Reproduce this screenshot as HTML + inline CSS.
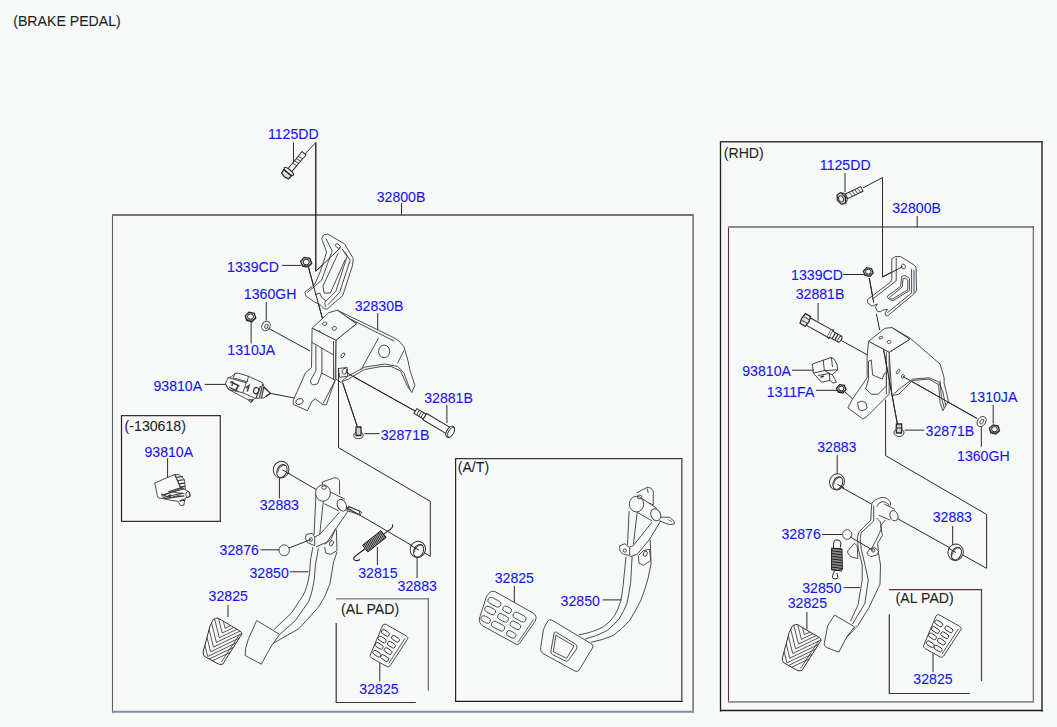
<!DOCTYPE html>
<html><head><meta charset="utf-8"><style>
html,body{margin:0;padding:0;background:#f7f9f9;}
svg{display:block;}
svg .z *{vector-effect:non-scaling-stroke;}
text{font-family:"Liberation Sans",sans-serif;font-size:14.8px;stroke-width:0.08px;}
</style></head><body>
<svg width="1057" height="727" viewBox="0 0 1057 727">
<rect x="0" y="0" width="1057" height="727" fill="#f7f9f9"/>
<line x1="112.5" y1="214" x2="112.5" y2="712.7" stroke="#5e5e5e" stroke-width="1.1"/>
<line x1="112" y1="215" x2="693.5" y2="215" stroke="#747478" stroke-width="2"/>
<line x1="693.1" y1="214" x2="693.1" y2="712.7" stroke="#76767c" stroke-width="1.6"/>
<line x1="112" y1="711.8" x2="694" y2="711.8" stroke="#8a8a98" stroke-width="2"/>
<line x1="121.5" y1="415" x2="121.5" y2="521.8" stroke="#1e1e1e" stroke-width="1.2"/>
<line x1="121" y1="415.6" x2="220.8" y2="415.6" stroke="#5a2026" stroke-width="1.2"/>
<line x1="220.3" y1="415" x2="220.3" y2="521.8" stroke="#333" stroke-width="1.2"/>
<line x1="121" y1="521.3" x2="220.8" y2="521.3" stroke="#333" stroke-width="1.2"/>
<line x1="455.6" y1="458" x2="455.6" y2="702" stroke="#262626" stroke-width="1.2"/>
<line x1="455" y1="458.6" x2="682.5" y2="458.6" stroke="#333" stroke-width="1.2"/>
<line x1="681.8" y1="458" x2="681.8" y2="702" stroke="#555" stroke-width="1.4"/>
<line x1="455" y1="701.4" x2="682.5" y2="701.4" stroke="#1a1a1a" stroke-width="1.2"/>
<line x1="720.5" y1="141" x2="720.5" y2="711.5" stroke="#1e1e1e" stroke-width="1.3"/>
<line x1="720" y1="141.8" x2="1042.8" y2="141.8" stroke="#3a3a3a" stroke-width="1.4"/>
<line x1="1042" y1="141" x2="1042" y2="711.5" stroke="#3a3a3a" stroke-width="1.6"/>
<line x1="720" y1="710.5" x2="1042.8" y2="710.5" stroke="#1e1e1e" stroke-width="1.3"/>
<line x1="728.5" y1="226" x2="728.5" y2="702.5" stroke="#6a2a30" stroke-width="1.1"/>
<line x1="728" y1="227" x2="1034" y2="227" stroke="#8a8a98" stroke-width="2"/>
<line x1="1033.3" y1="226" x2="1033.3" y2="702.5" stroke="#555" stroke-width="1.1"/>
<line x1="728" y1="701.9" x2="1034" y2="701.9" stroke="#8a8a98" stroke-width="1.6"/>
<path d="M336.2,623 L336.2,702.5 L415.8,702.5" fill="none" stroke="#333" stroke-width="1.2"/>
<line x1="336" y1="598.8" x2="428.5" y2="598.8" stroke="#8c8c9c" stroke-width="1.6"/>
<line x1="428.3" y1="598" x2="428.3" y2="690.5" stroke="#666" stroke-width="1.2"/>
<path d="M889.3,614.2 L889.3,693.5 L969.7,693.5" fill="none" stroke="#333" stroke-width="1.2"/>
<line x1="889" y1="589.6" x2="981.8" y2="589.6" stroke="#6a2a30" stroke-width="1.3"/>
<line x1="981.5" y1="589" x2="981.5" y2="681" stroke="#444" stroke-width="1.2"/>
<path d="M293.5,142.6 L293.5,162.2" fill="none" stroke="#2a2a2a" stroke-width="1"/>
<path d="M315.8,142.6 L303.7,155.3" fill="none" stroke="#2a2a2a" stroke-width="1"/>
<path d="M315.8,142.6 L315.8,271.2 L340.6,247.6" fill="none" stroke="#2a2a2a" stroke-width="1"/>
<path d="M401.5,203 L401.5,214.5" fill="none" stroke="#2a2a2a" stroke-width="1"/>
<path d="M281.9,265.4 L301,265.4" fill="none" stroke="#2a2a2a" stroke-width="1"/>
<path d="M308.6,267.7 L322.3,318 L324.8,323.7" fill="none" stroke="#2a2a2a" stroke-width="1"/>
<path d="M266.25,301.9 L266.25,320.6" fill="none" stroke="#2a2a2a" stroke-width="1"/>
<path d="M269.1,328.6 L310,351" fill="none" stroke="#2a2a2a" stroke-width="1"/>
<path d="M251.1,321.8 L251.1,343.5" fill="none" stroke="#2a2a2a" stroke-width="1"/>
<path d="M204.7,384.4 L225.5,384.4" fill="none" stroke="#2a2a2a" stroke-width="1"/>
<path d="M269,393.1 L298.4,398.8" fill="none" stroke="#2a2a2a" stroke-width="1"/>
<path d="M446.9,405 L446.9,423" fill="none" stroke="#2a2a2a" stroke-width="1"/>
<path d="M345.7,372.2 L415.9,411.5" fill="none" stroke="#2a2a2a" stroke-width="1"/>
<path d="M364.3,433.7 L379.8,433.7" fill="none" stroke="#2a2a2a" stroke-width="1"/>
<path d="M357.1,425.9 L342.6,382.6" fill="none" stroke="#2a2a2a" stroke-width="1"/>
<path d="M338.5,368 L338.5,447.7 L430.3,501.3 L430.3,556.3" fill="none" stroke="#2a2a2a" stroke-width="1"/>
<path d="M279.4,478 L279.4,498.2" fill="none" stroke="#2a2a2a" stroke-width="1"/>
<path d="M281.7,469.4 L430.3,556.3" fill="none" stroke="#2a2a2a" stroke-width="1"/>
<path d="M260.5,549.8 L279.2,549.8" fill="none" stroke="#2a2a2a" stroke-width="1"/>
<path d="M289.8,571.8 L308.6,571.8" fill="none" stroke="#2a2a2a" stroke-width="1"/>
<path d="M377.4,547 L377.4,565" fill="none" stroke="#2a2a2a" stroke-width="1"/>
<path d="M417.1,557 L417.1,578" fill="none" stroke="#2a2a2a" stroke-width="1"/>
<path d="M228,605 L228,617" fill="none" stroke="#2a2a2a" stroke-width="1"/>
<path d="M167.6,458.3 L167.6,477.3" fill="none" stroke="#2a2a2a" stroke-width="1"/>
<path d="M379.8,662.7 L379.8,681.3" fill="none" stroke="#2a2a2a" stroke-width="1"/>
<path d="M377.7,313 L377.7,330" fill="none" stroke="#2a2a2a" stroke-width="1"/>
<path d="M514.3,586 L514.3,602" fill="none" stroke="#2a2a2a" stroke-width="1"/>
<path d="M602.6,599.9 L621.3,599.9" fill="none" stroke="#2a2a2a" stroke-width="1"/>
<path d="M845,173 L845,192" fill="none" stroke="#2a2a2a" stroke-width="1"/>
<path d="M863.1,187.8 L882.5,177.6 L882.5,276.9 L902.6,266.8" fill="none" stroke="#2a2a2a" stroke-width="1"/>
<path d="M917.2,216 L917.2,227" fill="none" stroke="#2a2a2a" stroke-width="1"/>
<path d="M843,274.5 L863.8,274.5" fill="none" stroke="#2a2a2a" stroke-width="1"/>
<path d="M869.3,278 L873.7,302.8" fill="none" stroke="#2a2a2a" stroke-width="1"/>
<path d="M876.4,313.8 L879.7,330" fill="none" stroke="#2a2a2a" stroke-width="1"/>
<path d="M818.1,303 L818.1,320.9" fill="none" stroke="#2a2a2a" stroke-width="1"/>
<path d="M841.2,340.4 L867.2,354.8" fill="none" stroke="#2a2a2a" stroke-width="1"/>
<path d="M792,370.2 L814,370.2" fill="none" stroke="#2a2a2a" stroke-width="1"/>
<path d="M816,390.3 L837.2,390.3" fill="none" stroke="#2a2a2a" stroke-width="1"/>
<path d="M845,392 L861,406.5" fill="none" stroke="#2a2a2a" stroke-width="1"/>
<path d="M993.2,405 L993.2,423.4" fill="none" stroke="#2a2a2a" stroke-width="1"/>
<path d="M981.3,425.8 L981.3,446.7" fill="none" stroke="#2a2a2a" stroke-width="1"/>
<path d="M977,418.5 L902.9,376.4" fill="none" stroke="#2a2a2a" stroke-width="1"/>
<path d="M904.7,430.1 L924.4,430.1" fill="none" stroke="#2a2a2a" stroke-width="1"/>
<path d="M883.6,349.6 L897.4,424" fill="none" stroke="#2a2a2a" stroke-width="1"/>
<path d="M885.6,399.8 L885.6,455.6 L986.6,514.5 L986.6,568.3" fill="none" stroke="#2a2a2a" stroke-width="1"/>
<path d="M837.2,455 L837.2,473.5" fill="none" stroke="#2a2a2a" stroke-width="1"/>
<path d="M835.5,484 L986.6,568.3" fill="none" stroke="#2a2a2a" stroke-width="1"/>
<path d="M952.7,526 L952.7,545" fill="none" stroke="#2a2a2a" stroke-width="1"/>
<path d="M822,534.5 L842.1,534.5" fill="none" stroke="#2a2a2a" stroke-width="1"/>
<path d="M843.6,587.6 L862.2,587.6" fill="none" stroke="#2a2a2a" stroke-width="1"/>
<path d="M806.9,612 L806.9,629.5" fill="none" stroke="#2a2a2a" stroke-width="1"/>
<path d="M933,653.2 L933,672" fill="none" stroke="#2a2a2a" stroke-width="1"/>
<g transform="translate(287.9 172.5) rotate(-50)" stroke="#2a2a2a" stroke-width="1" fill="#f7f9f9"><path d="M3,-2.4 L25,-2.4 L25,2.4 L3,2.4 Z"/><path d="M10,-2.4 L11,2.4 M13,-2.4 L14,2.4 M16,-2.4 L17,2.4 M19,-2.4 L20,2.4 M22,-2.4 L23,2.4" stroke-width="0.8"/><path d="M20.5,-2.6 L25,-2.6 L25,2.6 L20.5,2.6" stroke-width="0.9"/><ellipse cx="1.5" cy="0" rx="1.8" ry="5.8" stroke-width="1.1"/><path d="M-4.5,-4.5 L-0.5,-5 L-0.5,5 L-4.5,4.5 L-5.5,0 Z" stroke-width="1.3" fill="#e0e1e1"/></g>
<g stroke="#262626" fill="#d9dada"><polygon points="311.71,263.19 308.12,267.14 302.60,266.25 300.69,261.41 304.28,257.46 309.80,258.35" stroke-width="1.3"/><ellipse cx="306.20" cy="262.00" rx="3.08" ry="2.80" fill="#f7f9f9" stroke-width="1"/><path d="M301.16,263.70 Q306.20,267.90 311.24,263.70" fill="none" stroke-width="0.8"/></g>
<g stroke="#262626" fill="#d9dada"><polygon points="255.72,318.19 251.90,321.70 246.68,320.41 245.28,315.61 249.10,312.10 254.32,313.39" stroke-width="1.3"/><ellipse cx="250.50" cy="316.60" rx="2.97" ry="2.70" fill="#f7f9f9" stroke-width="1"/><path d="M245.64,318.25 Q250.50,322.30 255.36,318.25" fill="none" stroke-width="0.8"/></g>
<g stroke="#3a3a3a" stroke-width="0.9" fill="none"><ellipse cx="266" cy="326" rx="4" ry="5" transform="rotate(30 266 326)"/><ellipse cx="266.5" cy="326" rx="1.6" ry="2.2" transform="rotate(30 266 326)"/></g>
<g transform="translate(295 228) scale(0.12392)" stroke="#3a3a3a" stroke-width="0.9" class="z"><path d="M215,85 L232,56 L262,48 L400,128 L470,245 L465,300 L385,545 L262,652 L238,655 L195,612 L160,600 L88,548 L80,518 L140,470 L160,455 L205,350 L255,195 Z" fill="#f7f9f9"/><path d="M250,85 L300,185 L215,420 L160,470 L100,520" fill="none"/><path d="M350,200 L225,470 L235,525 L285,525 L405,255" fill="none"/><path d="M380,170 L420,230 L330,510 L240,600 L245,640" fill="none"/><path d="M400,190 L445,260 L360,520 L265,620" fill="none"/><path d="M160,540 L200,525 L215,560 L250,590" fill="none"/><ellipse cx="345" cy="145" rx="22" ry="14" fill="none" transform="rotate(40 345 145)"/></g>
<path d="M315.8,142.6 L315.8,271.2 L340.6,247.6" fill="none" stroke="#2a2a2a" stroke-width="1"/>
<path d="M308.6,267.7 L322.3,318 L324.8,323.7" fill="none" stroke="#2a2a2a" stroke-width="1"/>
<g transform="translate(290 300) scale(0.15815)" stroke="#3a3a3a" stroke-width="0.9" class="z"><path d="M300,65 L650,235 L690,260 L720,295 L745,380 L760,450 L790,540 L770,585 L740,540 L700,450 L640,420 L580,420 L470,440 L370,500 L320,520 L290,500 L290,255 L420,150 L300,65 Z" fill="#f7f9f9"/><path d="M290,80 L420,148" fill="none"/><path d="M300,80 L660,260" fill="none"/><path d="M560,240 L450,440" fill="none"/><path d="M720,320 L680,400" fill="none"/><path d="M330,510 L370,480 L470,425 L600,405 L680,420 L720,460 L760,570" fill="none"/><ellipse cx="595" cy="325" rx="35" ry="40" fill="none"/><path d="M140,178 L245,80 L300,65 L420,150 L290,255 Z" fill="#f7f9f9"/><ellipse cx="220" cy="150" rx="14" ry="10" fill="none" transform="rotate(-20 220 150)"/><ellipse cx="280" cy="180" rx="14" ry="12" fill="none" transform="rotate(-20 280 180)"/><ellipse cx="185" cy="205" rx="6" ry="10" fill="none"/></g>
<g stroke="#3a3a3a" stroke-width="0.9" fill="none"><path d="M312.1,328.2 L335.9,340.3 L335.1,380.1 L326.3,404.8 L323,404.8 L315.3,398.8 L312.1,401.2 L307.4,410.7 L293.2,404.4 L293.3,400.4 L305.4,372.9 L311.5,367.4 Z" fill="#f7f9f9"/><path d="M311.5,342.1 L334,355.3" fill="none"/><path d="M315.9,345.4 L315.9,370.7 L310.4,380.6 Q311,385 313.1,385 L317.5,383.9 L321.9,372.9 L321.9,348.2" fill="none"/><path d="M321.4,372.9 L335.1,380.1" fill="none"/><path d="M333.5,341 L333.5,380.1" fill="none"/><path d="M323,403.7 L335.1,380.6" fill="none"/><path d="M338.4,368.5 L347.2,367.4 L347.8,376.2 L339.5,377.3 Z" fill="#f7f9f9"/><ellipse cx="344.5" cy="371.3" rx="2.3" ry="3" fill="none" transform="rotate(20 344.5 371.3)"/><ellipse cx="342.8" cy="355.3" rx="1.4" ry="2.8" fill="none" transform="rotate(35 342.8 355.3)"/><ellipse cx="299.5" cy="401.5" rx="3.8" ry="2.8" fill="none" transform="rotate(-20 299.5 401.5)"/></g>
<path d="M338.5,368 L338.5,447.7" fill="none" stroke="#2a2a2a" stroke-width="1"/>
<path d="M345.7,372.2 L415.9,411.5" fill="none" stroke="#2a2a2a" stroke-width="1"/>
<path d="M357.1,425.9 L342.6,382.6" fill="none" stroke="#2a2a2a" stroke-width="1"/>
<g transform="translate(415.4 411) rotate(30.9)" stroke="#2a2a2a" stroke-width="1" fill="#f7f9f9"><path d="M0,-2.8 L11,-2.8 L11,2.8 L0,2.8 Z"/><path d="M3,-2.8 L3,2.8 M5.5,-2.8 L5.5,2.8 M8,-2.8 L8,2.8" stroke-width="0.8"/><path d="M11,-3.6 L40,-3.6 L40,3.6 L11,3.6 Z"/><ellipse cx="40.5" cy="0" rx="3.4" ry="6.2" stroke-width="1.1"/><ellipse cx="41.5" cy="0" rx="2.6" ry="5.4" stroke-width="0.8"/></g>
<g stroke="#262626" fill="#f7f9f9"><ellipse cx="358.5" cy="435.2" rx="4.6" ry="3.5" stroke-width="0.9"/><path d="M356.1,427 L360.9,427 L361.1,431 L360.9,435.5 L356.1,435.5 L355.9,431 Z" fill="#d0d1d1" stroke-width="1.3"/></g>
<g transform="translate(222 368) scale(0.05501)" stroke="#3a3a3a" stroke-width="0.9" class="z"><path d="M60,290 L110,175 L170,160 L240,95 L300,95 L480,150 L740,270 L760,330 L880,460 L760,545 L600,550 L560,590 L520,630 L480,580 L330,500 L120,390 Z" fill="#f7f9f9"/><path d="M110,175 L440,270 L380,450 L120,390 L60,290" fill="none"/><path d="M240,95 L200,180 L460,250 L480,150" fill="none"/><path d="M440,270 L470,220" fill="none"/><path d="M150,250 L300,320 L250,400" fill="none" stroke-width="1.6"/><path d="M130,350 L280,420" fill="none" stroke-width="1.3"/><path d="M200,240 L180,330" fill="none" stroke-width="1.3"/><path d="M430,360 L490,320 L460,430" fill="none" stroke-width="1.5"/><path d="M380,450 L600,550" fill="none"/><ellipse cx="620" cy="410" rx="45" ry="60" fill="none" stroke-width="1.2" transform="rotate(20 620 410)"/><path d="M700,330 L620,550" fill="none" stroke-width="1.2"/><path d="M740,290 L680,540" fill="none" stroke-width="1.2"/><path d="M760,340 L720,545" fill="none" stroke-width="1.2"/><path d="M760,350 L880,460 L790,520" fill="none" stroke-width="1.3"/><path d="M480,580 L560,580 L520,630" fill="none" stroke-width="1.2"/></g>
<g transform="translate(135 455) scale(0.08258)" stroke="#3a3a3a" stroke-width="0.9" class="z"><path d="M240,340 L480,235 L540,240 L600,300 L610,420 L660,450 L670,500 L610,520 L600,560 L590,610 L550,610 L520,560 L440,550 L350,530 L280,520 L270,490 Z" fill="#f7f9f9"/><path d="M480,235 L520,320 L560,410" fill="none" stroke-width="1.2"/><path d="M500,270 L580,260" fill="none" stroke-width="1.2"/><path d="M510,310 L595,300" fill="none" stroke-width="1.2"/><path d="M520,350 L600,340" fill="none" stroke-width="1.2"/><path d="M540,390 L605,380" fill="none" stroke-width="1.2"/><path d="M330,500 L560,400 L610,420" fill="none"/><path d="M320,470 L420,520 L560,480" fill="none"/><path d="M400,440 L600,470" fill="none"/><ellipse cx="640" cy="480" rx="25" ry="35" fill="none"/><path d="M540,560 L590,540 L600,560" fill="none" stroke-width="1.5"/><path d="M315,488 L594.6,408" fill="none" stroke-width="1.1"/><path d="M335,515 L581,461" fill="none" stroke-width="1.1"/><path d="M348,528 L594.6,494.7" fill="none" stroke-width="1.1"/><path d="M415,441 L581,388" fill="none" stroke-width="1.1"/><ellipse cx="421.5" cy="494.7" rx="18" ry="10" fill="#333" transform="rotate(-20 421.5 494.7)"/></g>
<g stroke="#2e2e2e" stroke-width="0.95" fill="#f7f9f9"><ellipse cx="281.1" cy="469.7" rx="7.8" ry="8.4" transform="rotate(20 281.1 469.7)"/><ellipse cx="281.90000000000003" cy="471.0" rx="4.836" ry="6.720000000000001" transform="rotate(25 281.90000000000003 471.0)"/><path d="M277.6,472.7 Q279.1,464.7 285.6,465.5" fill="none" stroke-width="0.8"/></g>
<g stroke="#2e2e2e" stroke-width="0.95" fill="#f7f9f9"><ellipse cx="417.8" cy="549.4" rx="7.6" ry="8.2" transform="rotate(20 417.8 549.4)"/><ellipse cx="418.6" cy="550.6999999999999" rx="4.712" ry="6.56" transform="rotate(25 418.6 550.6999999999999)"/><path d="M414.3,552.4 Q415.8,544.4 422.3,545.1999999999999" fill="none" stroke-width="0.8"/></g>
<path d="M282.5,469.9 L289.5,474" fill="none" stroke="#2a2a2a" stroke-width="1"/>
<path d="M410.5,545.2 L419,550.2" fill="none" stroke="#2a2a2a" stroke-width="1"/>
<ellipse cx="284.2" cy="550.3" rx="5.2" ry="5.5" fill="#f7f9f9" stroke="#3a3a3a" stroke-width="0.9"/>
<g stroke="#3a3a3a" stroke-width="0.9" fill="none"><path d="M316,492.5 L314.1,534.5 M312.9,546.9 L310.5,560 L309.6,572.7 Q307.5,588 302.8,595.8 L291.3,613.2 L274,629.5" fill="none"/><path d="M323.4,501.1 L319.7,534.5 M318.5,548.1 L315.4,565 L314.4,578.5 Q312,594 308.6,601.6 L295.1,620.9 L279.7,634.4" fill="none"/><path d="M337,551.9 L333.6,562 L329.8,584.3 Q325,598 318.2,607.4 L299,628.6 L272,644" fill="none"/><path d="M339.5,512.3 L319.7,534.5 L314.7,537" fill="none"/><path d="M348.1,511 L337,527.1 L327.1,542 L316,546.9" fill="none"/><path d="M336.4,529.6 L337,550.6" fill="none"/><path d="M306.1,534.5 L312.3,533.3 L314.7,537 L314.7,545.7 L308.6,543.2 Q304.5,541 306.1,534.5 Z" fill="#f7f9f9"/><ellipse cx="310.8" cy="539.5" rx="1.6" ry="1.8" fill="none"/><path d="M324.6,544.4 L330.8,539.5 L335.8,528.4" fill="none"/><path d="M324.6,546.9 L325.9,553.1 L330.8,554.3 L337,550.6" fill="none"/><ellipse cx="331.4" cy="543.2" rx="1.8" ry="2.8" fill="none" transform="rotate(20 331.4 543.2)"/><path d="M256.6,620.5 L279.7,634.4 L272,645 Q266,655 261.4,664.2 L245.1,655.5 Q245,648 248,640.1 Z" fill="#f7f9f9"/><path d="M322.3,482 Q322,486 322.8,488 M322.3,482 L334.5,477.8 Q338.5,477.5 339.5,480.5 L339.6,494.5" fill="none"/><path d="M328.5,491.2 L345,499.2 L338.8,510.9 L324.5,503.8 Z" fill="#f7f9f9" stroke="none"/><path d="M328.5,491.2 L345,499.2 M324.5,503.8 L338.8,510.9" fill="none"/><ellipse cx="341.8" cy="505.2" rx="4.3" ry="6.2" fill="#f7f9f9" transform="rotate(-25 341.8 505.2)"/><ellipse cx="323" cy="493" rx="7.4" ry="8.2" fill="#f7f9f9"/><ellipse cx="324" cy="487.5" rx="2.2" ry="1.8" fill="none"/><path d="M349,507 L360,511 L359,514.5 L346.5,510.5 Z" fill="none"/></g>
<path d="M289,548 L310.8,539.5" fill="none" stroke="#2a2a2a" stroke-width="1"/>
<g stroke="#222" fill="none"><path d="M367.77,552.07 L386.17,537.47 L380.83,530.73 L362.43,545.33 Z" fill="#a8a8a8" stroke-width="1.0"/><path d="M368.48,551.51 L364.07,544.02 M369.90,550.38 L365.49,542.90 M371.31,549.26 L366.91,541.78 M372.73,548.14 L368.32,540.65 M374.14,547.01 L369.74,539.53 M375.56,545.89 L371.15,538.41 M376.97,544.77 L372.57,537.29 M378.39,543.65 L373.98,536.16 M379.80,542.52 L375.40,535.04 M381.22,541.40 L376.81,533.92 M382.63,540.28 L378.23,532.79 M384.05,539.15 L379.64,531.67 M385.47,538.03 L381.06,530.55" fill="none" stroke="#1e1e1e" stroke-width="0.9"/><path d="M365.1,548.7 L356.5,555.2 Q352,558 354.5,560 Q357,561.5 360,559.5" fill="none" stroke-width="1.1"/><path d="M383.5,534.1 L390.5,529.2 Q394,526 392,524.5" fill="none" stroke-width="1.1"/></g>
<g transform="translate(340 500) scale(0.09461)" stroke="#3a3a3a" stroke-width="0.9" class="z"><path d="M90,65 L230,130 L210,160 L75,95 Z" fill="none"/></g>
<g stroke="#3a3a3a" stroke-width="0.9" fill="none"><path d="M629.1,511 L627.5,545 M626,557 L625.7,560 L623.2,584.8 Q622,594 620.8,600.9 Q618,610 614.6,615.7 Q610,622 603.4,626.8 Q594,632 578.7,634.9" fill="none"/><path d="M637.2,512.2 L633.4,544.4 M632.2,556.8 L631.9,560 L630.7,582.3 Q629,594 626.9,603.3 Q623.5,612 619.5,618.2 Q614,625 607.1,630.6 Q597,636 584.9,639.2" fill="none"/><path d="M650.2,539.4 L651.1,563.7 L648,578.6 Q645,590 640.6,600.9 Q635,612 629.4,620.7 Q622,629 613.3,635.5 Q603,640 591,642.3" fill="none"/><path d="M652,522.1 L633.4,545.6 L628.5,547.5" fill="none"/><path d="M660.7,520.9 L649.5,539.4 L637.2,554.3 L629.7,556.8" fill="none"/><path d="M619.8,545.6 L624.8,543.8 L629.7,547.5 L629.7,555.5 L623.5,554.3 Q618.5,552 619.8,545.6 Z" fill="#f7f9f9"/><ellipse cx="624.8" cy="550.6" rx="1.5" ry="1.7" fill="none"/><path d="M638.4,555.5 L643.3,550.6 L649.5,549.3 L650.8,560.5 L643.3,565.4 L639,563 Z" fill="#f7f9f9"/><ellipse cx="645.2" cy="553.7" rx="1.9" ry="2.7" fill="none" transform="rotate(20 645.2 553.7)"/><path d="M636.5,493 L647.1,487.4 L650.8,488 L653.3,491.1 L653.3,504.8 L640,500" fill="#f7f9f9"/><path d="M647.1,488.5 L648.3,493" fill="none"/><path d="M642.1,498.6 L657,508.5 L652,520.9 L637.2,512.2 Z" fill="#f7f9f9" stroke="none"/><path d="M642.1,498.6 L657,508.5 M637.2,512.2 L652,520.9" fill="none"/><ellipse cx="655.7" cy="514.7" rx="4.7" ry="6.2" fill="#f7f9f9" transform="rotate(-25 655.7 514.7)"/><ellipse cx="636.5" cy="504.1" rx="7.2" ry="7.8" fill="#f7f9f9"/><ellipse cx="639.6" cy="496.9" rx="2.3" ry="1.9" fill="none"/><path d="M660.7,517.2 L669.3,517.2 L674.3,521.5 L674.3,524 L669.3,524.6 L659.4,520.9" fill="none"/><path d="M668,519.5 L672,522" fill="none" stroke-width="0.7"/></g>
<g transform="translate(470 570) scale(0.16510)" stroke="#3a3a3a" stroke-width="0.9" class="z"><path d="M120,135 Q135,125 150,130 L390,265 Q410,285 395,310 L300,445 Q290,455 280,450 L80,340 Q50,320 58,290 L100,160 Z" fill="#f7f9f9"/><path d="M385,300 L290,438" fill="none" stroke-width="0.8"/><rect x="105.5" y="176.0" width="85" height="38" rx="19.0" fill="none" transform="rotate(28 148 195)"/><rect x="197.5" y="223.0" width="55" height="34" rx="17.0" fill="none" transform="rotate(28 225 240)"/><rect x="257.5" y="266.0" width="85" height="38" rx="19.0" fill="none" transform="rotate(28 300 285)"/><rect x="87.0" y="227.0" width="70" height="36" rx="18.0" fill="none" transform="rotate(28 122 245)"/><rect x="165.0" y="272.0" width="70" height="36" rx="18.0" fill="none" transform="rotate(28 200 290)"/><rect x="240.0" y="317.0" width="70" height="36" rx="18.0" fill="none" transform="rotate(28 275 335)"/><rect x="65.0" y="283.0" width="60" height="34" rx="17.0" fill="none" transform="rotate(28 95 300)"/><rect x="127.5" y="321.0" width="85" height="38" rx="19.0" fill="none" transform="rotate(28 170 340)"/><rect x="220.0" y="373.0" width="60" height="34" rx="17.0" fill="none" transform="rotate(28 250 390)"/><path d="M470,310 Q480,298 495,303 L740,450 Q750,460 740,475 L660,608 Q650,618 635,612 L440,505 Q425,495 428,470 L445,360 Z" fill="#f7f9f9"/><path d="M510,380 Q515,372 525,378 L640,450 Q655,460 645,480 L595,548 Q585,555 575,550 L500,512 Q488,505 490,490 Z" fill="none"/><path d="M520,395 L630,460 L585,535 L505,495 Z" fill="none"/></g>
<g transform="translate(842 198.4) rotate(-25.5)" stroke="#2a2a2a" stroke-width="1" fill="#f7f9f9"><path d="M5,-2.6 L22,-2.6 L22,2.6 L5,2.6 Z"/><path d="M9,-2.6 L10.5,2.6 M12,-2.6 L13.5,2.6 M15,-2.6 L16.5,2.6 M18,-2.6 L19.5,2.6" stroke-width="0.8"/><ellipse cx="2.5" cy="0" rx="2.2" ry="4.6" stroke-width="1.1"/><path d="M-3,-5.2 L1.5,-5.8 L3.5,0 L1.5,5.8 L-3,5.2 L-5,0 Z" stroke-width="1.3" fill="#e0e1e1"/><ellipse cx="-1" cy="0" rx="2.3" ry="3.2" stroke-width="0.9"/></g>
<g stroke="#262626" fill="#d9dada"><polygon points="873.22,272.80 870.01,276.32 865.09,275.52 863.38,271.20 866.59,267.68 871.51,268.48" stroke-width="1.3"/><ellipse cx="868.30" cy="271.70" rx="2.75" ry="2.50" fill="#f7f9f9" stroke-width="1"/><path d="M863.80,273.25 Q868.30,277.00 872.80,273.25" fill="none" stroke-width="0.8"/></g>
<g transform="translate(850 250) scale(0.11004)" stroke="#3a3a3a" stroke-width="0.9" class="z"><path d="M380,80 L410,60 L460,60 L580,135 L600,155 L605,370 L580,400 L340,600 L320,590 L320,570 L340,540 L300,545 L280,560 L250,560 L230,520 L250,490 L200,510 L160,480 L160,450 L200,420 L370,290 L380,260 Z" fill="#f7f9f9"/><path d="M420,70 L420,280 L200,450" fill="none"/><path d="M560,170 L560,390 L340,570" fill="none"/><path d="M582,180 L582,395" fill="none" stroke="#8a8a98" stroke-width="1.6"/><path d="M470,240 Q500,220 540,260 L540,370 L390,460 Q340,450 340,420 L460,330 Z" fill="none"/><path d="M482,262 Q505,245 525,272 L525,362 L385,446 Q362,446 358,432 L474,336 Z" fill="none" stroke-width="0.85"/><ellipse cx="485" cy="150" rx="18" ry="22" fill="none" transform="rotate(-20 485 150)"/></g>
<path d="M882.5,177.6 L882.5,276.9 L902.6,266.8" fill="none" stroke="#2a2a2a" stroke-width="1"/>
<path d="M869.3,278 L873.7,302.8" fill="none" stroke="#2a2a2a" stroke-width="1"/>
<g transform="translate(805.8 320.2) rotate(29)" stroke="#2a2a2a" stroke-width="1" fill="#f7f9f9"><path d="M2,-4.2 L27,-4.2 L27,4.2 L2,4.2 Z"/><path d="M-3.5,-5.5 L2.5,-5.5 L3.5,0 L2.5,5.5 L-3.5,5.5 L-4.5,0 Z" stroke-width="1.3" fill="#e4e5e5"/><path d="M-3.5,-2 L3,-2 M-3.5,2 L3,2" stroke-width="0.8"/><path d="M27,-4.2 L29,-4.8 L29,4.8 L27,4.2" stroke-width="1.2"/><path d="M29,-3.4 L39,-3.4 L39,3.4 L29,3.4" /><path d="M32,-3.4 L32,3.4 M35,-3.4 L35,3.4" stroke-width="1.2"/><ellipse cx="39" cy="0" rx="1.5" ry="3.4"/></g>
<g transform="translate(830 320) scale(0.13753)" stroke="#3a3a3a" stroke-width="0.9" class="z"><path d="M450,55 L580,130 L800,320 L830,420 L830,460 L850,540 L860,590 L820,660 L800,600 L790,470 L720,430 L600,440 L500,540 L450,550 L430,235 L580,140 Z" fill="#f7f9f9"/><path d="M430,235 L580,140" fill="none"/><path d="M460,540 L520,490 L600,430 L720,420 L790,450 L820,520 L840,620" fill="none"/><path d="M800,440 L810,560 L830,640" fill="none"/><path d="M280,155 L400,60 L450,55 L580,140 L430,235 Z" fill="#f7f9f9"/><ellipse cx="370" cy="128" rx="14" ry="9" fill="none" transform="rotate(-15 370 128)"/><ellipse cx="430" cy="160" rx="14" ry="12" fill="none" transform="rotate(-15 430 160)"/><path d="M280,155 L430,235 L430,540 L270,700 L240,720 L130,640 L160,580 L270,420 L270,270 Z" fill="#f7f9f9"/><path d="M280,300 L300,290 L310,400 L380,430 L395,390 L410,380 L410,480 L350,540 L300,540 L260,500 L280,430 Z" fill="none"/><path d="M390,220 L420,380" fill="none"/><path d="M410,235 L410,540" fill="none"/><path d="M200,600 Q230,580 260,600 L270,640 Q240,670 210,650 Z" fill="none"/><ellipse cx="495" cy="375" rx="8" ry="20" fill="none" transform="rotate(35 495 375)"/><ellipse cx="530" cy="410" rx="10" ry="14" fill="none" transform="rotate(20 530 410)"/></g>
<path d="M883.6,349.6 L897.4,424" fill="none" stroke="#2a2a2a" stroke-width="1"/>
<path d="M977,418.5 L902.9,376.4" fill="none" stroke="#2a2a2a" stroke-width="1"/>
<g stroke="#3a3a3a" stroke-width="0.95" fill="#f7f9f9"><path d="M812.4,364 L831.4,357.4 L834.5,359.5 L837.2,364.9 L837.6,369.8 L832.2,374.8 L834.7,378.9 L836.4,382.2 L833,383 L829.8,380.5 L821.5,382.2 L813.7,373.5 L813.3,373.1 Z" fill="none"/><path d="M823.2,359.9 L824.4,370.6 L837.6,369.8 M813.3,373.1 L824.4,370.6 L832.2,374.8" fill="none"/><path d="M831.4,357.4 L832.5,367" fill="none"/><path d="M818,375.5 L829.5,373.5 L829.8,380.5" fill="none"/><path d="M820.5,377.2 L824,376" fill="none" stroke-width="1.8"/></g>
<g stroke="#262626" fill="#d9dada"><polygon points="846.03,389.57 842.94,392.95 838.21,392.18 836.57,388.03 839.66,384.65 844.39,385.42" stroke-width="1.3"/><ellipse cx="841.30" cy="388.50" rx="2.64" ry="2.40" fill="#f7f9f9" stroke-width="1"/><path d="M836.98,390.00 Q841.30,393.60 845.62,390.00" fill="none" stroke-width="0.8"/></g>
<g stroke="#262626" fill="#f7f9f9"><ellipse cx="899" cy="432.7" rx="5" ry="3.8" stroke-width="0.9"/><path d="M896.4,424.0 L901.6,424.0 L901.8,428.5 L901.6,433.0 L896.4,433.0 L896.2,428.5 Z" fill="#d0d1d1" stroke-width="1.3"/><path d="M896.4,428.0 L901.6,428.0" stroke-width="1"/></g>
<g stroke="#3a3a3a" stroke-width="0.9" fill="#f7f9f9"><ellipse cx="981.6" cy="421.5" rx="4" ry="5.5" transform="rotate(35 981.6 421.5)"/><ellipse cx="981.8" cy="421.5" rx="1.5" ry="2.5" transform="rotate(35 981.6 421.5)"/></g>
<g stroke="#262626" fill="#d9dada"><polygon points="999.52,430.74 995.85,434.12 990.82,432.88 989.48,428.26 993.15,424.88 998.18,426.12" stroke-width="1.3"/><ellipse cx="994.50" cy="429.20" rx="2.86" ry="2.60" fill="#f7f9f9" stroke-width="1"/><path d="M989.82,430.80 Q994.50,434.70 999.18,430.80" fill="none" stroke-width="0.8"/></g>
<g stroke="#2e2e2e" stroke-width="0.95" fill="#f7f9f9"><ellipse cx="837" cy="481.8" rx="7.4" ry="8.2" transform="rotate(20 837 481.8)"/><ellipse cx="837.8" cy="483.1" rx="4.588" ry="6.56" transform="rotate(25 837.8 483.1)"/><path d="M833.5,484.8 Q835,476.8 841.5,477.6" fill="none" stroke-width="0.8"/></g>
<g stroke="#2e2e2e" stroke-width="0.95" fill="#f7f9f9"><ellipse cx="955.6" cy="552.2" rx="7.6" ry="8.3" transform="rotate(20 955.6 552.2)"/><ellipse cx="956.4" cy="553.5" rx="4.712" ry="6.640000000000001" transform="rotate(25 956.4 553.5)"/><path d="M952.1,555.2 Q953.6,547.2 960.1,548.0" fill="none" stroke-width="0.8"/></g>
<path d="M837.5,484.3 L844,487.9" fill="none" stroke="#2a2a2a" stroke-width="1"/>
<path d="M948.5,548.3 L956,552.5" fill="none" stroke="#2a2a2a" stroke-width="1"/>
<ellipse cx="847.2" cy="534.5" rx="4.6" ry="4.8" fill="#f7f9f9" stroke="#3a3a3a" stroke-width="0.9"/>
<g stroke="#3a3a3a" stroke-width="0.9" fill="none"><path d="M871.8,503.7 Q871,512 870.8,520 L859.3,531.6 L857.3,537.4 L858.3,548.9 L862.2,565 L862.2,580 L858,604.8 L850.5,621.3 L890.1,506.1 Z" fill="#f7f9f9" stroke="none"/><path d="M871.8,503.7 Q874,499 882.4,497.4 Q888,497.5 890.6,502.7 L890.1,506.1 L885.3,520 L880.5,525.8 L882.4,535.5 L877.6,543.2 L878.5,552.8 L880.5,565 L880,584.1 L869,607.5 L858,625.4 L845,639.1 L850.5,621.3 L862.2,580 L862.2,565 L858.3,548.9 L857.3,537.4 L859.3,531.6 L870.8,520 Z" fill="#f7f9f9" stroke="none"/><path d="M890.1,506.1 L890.6,502.7 Q888,497.5 882.4,497.4 Q874,499 871.8,503.7 Q871,512 870.8,520 L859.3,531.6 L857.3,537.4 L858.3,548.9 L862.2,565 L862.2,580 L858,604.8 L850.5,621.3" fill="none"/><path d="M873.7,505.6 L873.7,521 L861.2,532.6 L860.2,538.3 L861.2,548.9 L865,565 L868.3,580 L864.9,603.4 L852.5,624" fill="none"/><path d="M877.1,506.6 Q878,502.5 882,501.7 Q887,501.5 889.1,505.6" fill="none"/><path d="M876.6,518.1 L880.5,522 L881.4,528.7 L876.6,539.3 L870.8,549.9" fill="none"/><path d="M885.3,520 L880.5,525.8 L882.4,535.5 L877.6,543.2 L878.5,552.8 L880.5,565 L880,584.1 L869,607.5 L858,625.4 L845,639.1" fill="none"/><path d="M884.3,504.1 L894.9,509.4 L890.1,520 L878.5,515.2 Z" fill="#f7f9f9" stroke="none"/><path d="M884.3,504.1 L894.9,509.4 M878.5,515.2 L890.1,520" fill="none"/><ellipse cx="893.9" cy="515.7" rx="3.9" ry="5.3" fill="#f7f9f9" transform="rotate(-20 893.9 515.7)"/><path d="M867,552.8 L869.9,548.9 L874.7,547.5 L878.5,550.9 L877.6,554.7 L870.8,556.6 L867.4,554.2 Z" fill="#f7f9f9"/><ellipse cx="873.2" cy="550.4" rx="1.7" ry="1.7" fill="none"/><path d="M847.7,550.9 L854.4,543.2 L857.3,546 L857.8,558.6 L850.6,556.6 L847.7,552.8 Z" fill="#f7f9f9"/><path d="M834.6,615.1 L854.6,626.8 L847,636.4 L838.8,652.2 L826.4,647.4 Q823.5,645 824.3,643.3 L827.8,625.4 Z" fill="#f7f9f9"/></g>
<path d="M850,536.8 L873.2,550.4" fill="none" stroke="#2a2a2a" stroke-width="1"/>
<g stroke="#222" fill="none"><path d="M831.5,549 Q836.5,547.5 842,549 L842.5,569.5 Q837,571.5 831.5,569.5 Z" fill="#8e8e8e" stroke-width="0.9"/><path d="M831,548.0 L842,549.5 M831,550.7 L842,552.2 M831,553.4 L842,554.9 M831,556.1 L842,557.6 M831,558.8 L842,560.3 M831,561.5 L842,563.0 M831,564.2 L842,565.7 M831,566.9 L842,568.4 M831,569.6 L842,571.1" fill="none" stroke="#1a1a1a" stroke-width="1.0"/><path d="M833.5,548.5 Q833,540 836,539.8 Q840.5,539.5 841,543 L840.3,547.5" fill="none" stroke-width="1.0"/><path d="M834.5,571 Q831.5,577 833,578.5 Q836.5,580 838,577.5 L836.8,573" fill="none" stroke-width="1.0"/></g>
<g transform="translate(0 0)"><clipPath id="padR"><path d="M792.4,626 Q794.5,624.5 797.1,624.4 L818.7,637.1 Q821.5,639 821.1,640.3 L801.9,670.6 Q799,671.5 796.3,669.8 L783.6,662.7 Q782,660.5 782.4,657.9 L789.2,632.4 Z"/></clipPath><path d="M792.4,626 Q794.5,624.5 797.1,624.4 L818.7,637.1 Q821.5,639 821.1,640.3 L801.9,670.6 Q799,671.5 796.3,669.8 L783.6,662.7 Q782,660.5 782.4,657.9 L789.2,632.4 Z" fill="#f7f9f9" stroke="#333" stroke-width="1"/><path d="M794.6,595.9 L804.3,634.7 L844.9,615.2 M791.7,600.6 L801.4,639.4 L842.0,619.9 M788.8,605.3 L798.5,644.1 L839.1,624.6 M785.9,610.0 L795.6,648.8 L836.2,629.3 M783.0,614.7 L792.7,653.5 L833.3,634.0 M780.1,619.4 L789.8,658.2 L830.4,638.7 M777.2,624.1 L786.9,662.9 L827.5,643.4 M774.3,628.8 L784.0,667.6 L824.6,648.1 M771.4,633.5 L781.1,672.3 L821.7,652.8" clip-path="url(#padR)" fill="none" stroke="#3a3a3a" stroke-width="0.85"/><path d="M818.7,641 L800.5,668.5" fill="none" stroke="#333" stroke-width="0.8"/></g>
<g transform="translate(-579.2 -6.4)"><clipPath id="padL"><path d="M792.4,626 Q794.5,624.5 797.1,624.4 L818.7,637.1 Q821.5,639 821.1,640.3 L801.9,670.6 Q799,671.5 796.3,669.8 L783.6,662.7 Q782,660.5 782.4,657.9 L789.2,632.4 Z"/></clipPath><path d="M792.4,626 Q794.5,624.5 797.1,624.4 L818.7,637.1 Q821.5,639 821.1,640.3 L801.9,670.6 Q799,671.5 796.3,669.8 L783.6,662.7 Q782,660.5 782.4,657.9 L789.2,632.4 Z" fill="#f7f9f9" stroke="#333" stroke-width="1"/><path d="M794.6,595.9 L804.3,634.7 L844.9,615.2 M791.7,600.6 L801.4,639.4 L842.0,619.9 M788.8,605.3 L798.5,644.1 L839.1,624.6 M785.9,610.0 L795.6,648.8 L836.2,629.3 M783.0,614.7 L792.7,653.5 L833.3,634.0 M780.1,619.4 L789.8,658.2 L830.4,638.7 M777.2,624.1 L786.9,662.9 L827.5,643.4 M774.3,628.8 L784.0,667.6 L824.6,648.1 M771.4,633.5 L781.1,672.3 L821.7,652.8" clip-path="url(#padL)" fill="none" stroke="#3a3a3a" stroke-width="0.85"/><path d="M818.7,641 L800.5,668.5" fill="none" stroke="#333" stroke-width="0.8"/></g>
<g transform="translate(0 0)" stroke="#333" stroke-width="0.9" fill="none"><path d="M382.8,625.1 Q384,624 385.8,624.3 L406.2,635.8 Q408.5,637.5 407.7,638.8 L390.3,665.5 Q389,667 387.3,666.7 L371.7,658.1 Q369.5,656.5 370.2,655.1 Z" fill="#f7f9f9"/><path d="M405,638.3 L388.6,663.6" stroke-width="0.8"/><rect x="381.1" y="630.8" width="8.6" height="4.2" rx="2" transform="rotate(33 385.4 632.9)"/><rect x="391.2" y="636.7" width="8.6" height="4.2" rx="2" transform="rotate(33 395.5 638.8)"/><rect x="377.8" y="637.4" width="8.6" height="4.2" rx="2" transform="rotate(33 382.1 639.5)"/><rect x="387.1" y="642.6" width="8.6" height="4.2" rx="2" transform="rotate(33 391.4 644.7)"/><rect x="374.8" y="643.8" width="8.6" height="4.2" rx="2" transform="rotate(33 379.1 645.9)"/><rect x="383.7" y="649.0" width="8.6" height="4.2" rx="2" transform="rotate(33 388 651.1)"/><rect x="372.6" y="651.6" width="8.6" height="4.2" rx="2" transform="rotate(33 376.9 653.7)"/><rect x="380.4" y="656.0" width="8.6" height="4.2" rx="2" transform="rotate(33 384.7 658.1)"/></g>
<g transform="translate(553.4 -9.5)" stroke="#333" stroke-width="0.9" fill="none"><path d="M382.8,625.1 Q384,624 385.8,624.3 L406.2,635.8 Q408.5,637.5 407.7,638.8 L390.3,665.5 Q389,667 387.3,666.7 L371.7,658.1 Q369.5,656.5 370.2,655.1 Z" fill="#f7f9f9"/><path d="M405,638.3 L388.6,663.6" stroke-width="0.8"/><rect x="381.1" y="630.8" width="8.6" height="4.2" rx="2" transform="rotate(33 385.4 632.9)"/><rect x="391.2" y="636.7" width="8.6" height="4.2" rx="2" transform="rotate(33 395.5 638.8)"/><rect x="377.8" y="637.4" width="8.6" height="4.2" rx="2" transform="rotate(33 382.1 639.5)"/><rect x="387.1" y="642.6" width="8.6" height="4.2" rx="2" transform="rotate(33 391.4 644.7)"/><rect x="374.8" y="643.8" width="8.6" height="4.2" rx="2" transform="rotate(33 379.1 645.9)"/><rect x="383.7" y="649.0" width="8.6" height="4.2" rx="2" transform="rotate(33 388 651.1)"/><rect x="372.6" y="651.6" width="8.6" height="4.2" rx="2" transform="rotate(33 376.9 653.7)"/><rect x="380.4" y="656.0" width="8.6" height="4.2" rx="2" transform="rotate(33 384.7 658.1)"/></g>
<text transform="translate(13.22 26.40) scale(0.955 1)" fill="#1e1e1e" stroke="#1e1e1e">(BRAKE PEDAL)</text>
<text transform="translate(124.62 431.00) scale(0.955 1)" fill="#1e1e1e" stroke="#1e1e1e">(-130618)</text>
<text transform="translate(341.02 614.30) scale(0.955 1)" fill="#1e1e1e" stroke="#1e1e1e">(AL PAD)</text>
<text transform="translate(457.72 472.40) scale(0.955 1)" fill="#1e1e1e" stroke="#1e1e1e">(A/T)</text>
<text transform="translate(723.72 158.30) scale(0.955 1)" fill="#1e1e1e" stroke="#1e1e1e">(RHD)</text>
<text transform="translate(895.62 603.30) scale(0.955 1)" fill="#1e1e1e" stroke="#1e1e1e">(AL PAD)</text>
<text transform="translate(267.92 139.35) scale(0.955 1)" fill="#1414f0" stroke="#1414f0">1125DD</text>
<text transform="translate(376.66 202.40) scale(0.955 1)" fill="#1414f0" stroke="#1414f0">32800B</text>
<text transform="translate(227.12 271.60) scale(0.955 1)" fill="#1414f0" stroke="#1414f0">1339CD</text>
<text transform="translate(243.82 298.90) scale(0.955 1)" fill="#1414f0" stroke="#1414f0">1360GH</text>
<text transform="translate(354.76 310.80) scale(0.955 1)" fill="#1414f0" stroke="#1414f0">32830B</text>
<text transform="translate(227.32 354.80) scale(0.955 1)" fill="#1414f0" stroke="#1414f0">1310JA</text>
<text transform="translate(153.43 390.60) scale(0.955 1)" fill="#1414f0" stroke="#1414f0">93810A</text>
<text transform="translate(424.16 403.20) scale(0.955 1)" fill="#1414f0" stroke="#1414f0">32881B</text>
<text transform="translate(380.76 439.50) scale(0.955 1)" fill="#1414f0" stroke="#1414f0">32871B</text>
<text transform="translate(144.43 457.10) scale(0.955 1)" fill="#1414f0" stroke="#1414f0">93810A</text>
<text transform="translate(259.66 510.10) scale(0.955 1)" fill="#1414f0" stroke="#1414f0">32883</text>
<text transform="translate(219.56 555.00) scale(0.955 1)" fill="#1414f0" stroke="#1414f0">32876</text>
<text transform="translate(249.46 578.00) scale(0.955 1)" fill="#1414f0" stroke="#1414f0">32850</text>
<text transform="translate(358.26 578.00) scale(0.955 1)" fill="#1414f0" stroke="#1414f0">32815</text>
<text transform="translate(397.56 591.30) scale(0.955 1)" fill="#1414f0" stroke="#1414f0">32883</text>
<text transform="translate(208.56 601.00) scale(0.955 1)" fill="#1414f0" stroke="#1414f0">32825</text>
<text transform="translate(359.36 693.80) scale(0.955 1)" fill="#1414f0" stroke="#1414f0">32825</text>
<text transform="translate(494.66 583.10) scale(0.955 1)" fill="#1414f0" stroke="#1414f0">32825</text>
<text transform="translate(560.56 606.20) scale(0.955 1)" fill="#1414f0" stroke="#1414f0">32850</text>
<text transform="translate(819.82 170.20) scale(0.955 1)" fill="#1414f0" stroke="#1414f0">1125DD</text>
<text transform="translate(892.26 213.10) scale(0.955 1)" fill="#1414f0" stroke="#1414f0">32800B</text>
<text transform="translate(791.12 280.20) scale(0.955 1)" fill="#1414f0" stroke="#1414f0">1339CD</text>
<text transform="translate(795.66 299.30) scale(0.955 1)" fill="#1414f0" stroke="#1414f0">32881B</text>
<text transform="translate(742.23 375.90) scale(0.955 1)" fill="#1414f0" stroke="#1414f0">93810A</text>
<text transform="translate(766.72 396.50) scale(0.955 1)" fill="#1414f0" stroke="#1414f0">1311FA</text>
<text transform="translate(969.42 402.20) scale(0.955 1)" fill="#1414f0" stroke="#1414f0">1310JA</text>
<text transform="translate(925.56 436.00) scale(0.955 1)" fill="#1414f0" stroke="#1414f0">32871B</text>
<text transform="translate(957.02 460.80) scale(0.955 1)" fill="#1414f0" stroke="#1414f0">1360GH</text>
<text transform="translate(817.16 451.70) scale(0.955 1)" fill="#1414f0" stroke="#1414f0">32883</text>
<text transform="translate(932.66 521.70) scale(0.955 1)" fill="#1414f0" stroke="#1414f0">32883</text>
<text transform="translate(781.46 539.20) scale(0.955 1)" fill="#1414f0" stroke="#1414f0">32876</text>
<text transform="translate(802.26 592.80) scale(0.955 1)" fill="#1414f0" stroke="#1414f0">32850</text>
<text transform="translate(787.76 608.10) scale(0.955 1)" fill="#1414f0" stroke="#1414f0">32825</text>
<text transform="translate(913.36 683.50) scale(0.955 1)" fill="#1414f0" stroke="#1414f0">32825</text>
</svg>
</body></html>
